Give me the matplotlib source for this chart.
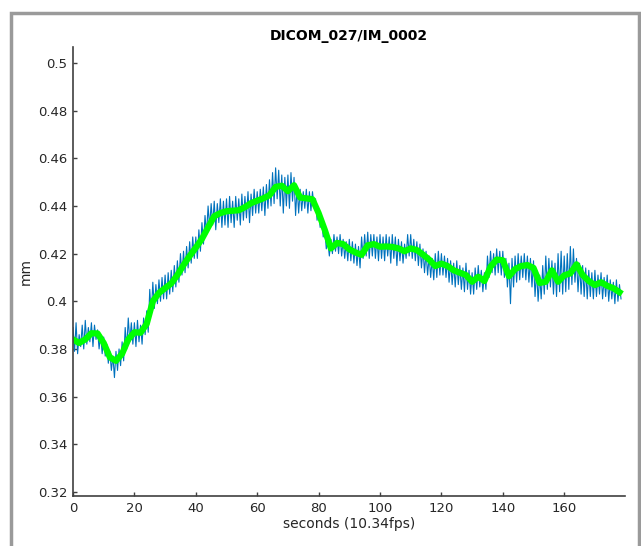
import matplotlib.pyplot as plt
from matplotlib.patches import Rectangle
import numpy as np

# frame rate of the clip
fps_label = 'seconds (10.34fps)'
title = 'DICOM_027/IM_0002'

# smoothed diameter, one value every 2 s (0..178 s)
smooth_t = list(range(0, 180, 2))
smooth_mm = [
    0.3840, 0.3825, 0.3840, 0.3866, 0.3865, 0.3825, 0.3765, 0.3750, 0.3780, 0.3840,
    0.3870, 0.3868, 0.3905, 0.4000, 0.4035, 0.4055, 0.4075, 0.4110, 0.4152, 0.4190,
    0.4225, 0.4262, 0.4310, 0.4357, 0.4370, 0.4378, 0.4380, 0.4382, 0.4395, 0.4412,
    0.4422, 0.4432, 0.4445, 0.4480, 0.4485, 0.4462, 0.4487, 0.4435, 0.4432, 0.4428,
    0.4370, 0.4300, 0.4222, 0.4245, 0.4240, 0.4218, 0.4205, 0.4195, 0.4235, 0.4240,
    0.4229, 0.4230, 0.4228, 0.4222, 0.4210, 0.4222, 0.4215, 0.4196, 0.4175, 0.4148,
    0.4158, 0.4148, 0.4130, 0.4120, 0.4110, 0.4082, 0.4103, 0.4085, 0.4145, 0.4175,
    0.4172, 0.4105, 0.4135, 0.4148, 0.4152, 0.4140, 0.4077, 0.4082, 0.4130, 0.4082,
    0.4109, 0.4117, 0.4155, 0.4110, 0.4085, 0.4068, 0.4080, 0.4065, 0.4055, 0.4038,
]

# raw diameter, one value every 0.5 s (0..178.5 s)
raw_mm = [
    0.389, 0.379, 0.391, 0.378, 0.386, 0.381, 0.390, 0.380, 0.392, 0.382, 0.389, 0.383, 0.391, 0.381, 0.390, 0.384, 0.388, 0.380, 0.386, 0.378,
    0.385, 0.377, 0.382, 0.374, 0.379, 0.371, 0.377, 0.368, 0.379, 0.371, 0.380, 0.373, 0.383, 0.375, 0.389, 0.380, 0.393, 0.383, 0.391, 0.382,
    0.391, 0.381, 0.392, 0.383, 0.390, 0.382, 0.393, 0.386, 0.396, 0.387, 0.405, 0.394, 0.408, 0.397, 0.407, 0.399, 0.409, 0.400, 0.410, 0.401,
    0.411, 0.401, 0.412, 0.403, 0.413, 0.404, 0.415, 0.406, 0.417, 0.408, 0.420, 0.411, 0.421, 0.412, 0.423, 0.414, 0.425, 0.416, 0.427, 0.418,
    0.427, 0.418, 0.430, 0.421, 0.433, 0.424, 0.436, 0.428, 0.440, 0.431, 0.441, 0.432, 0.442, 0.430, 0.441, 0.433, 0.443, 0.431, 0.442, 0.432,
    0.443, 0.431, 0.444, 0.433, 0.442, 0.431, 0.444, 0.434, 0.443, 0.432, 0.445, 0.434, 0.444, 0.435, 0.446, 0.433, 0.445, 0.436, 0.447, 0.437,
    0.446, 0.437, 0.447, 0.438, 0.448, 0.436, 0.449, 0.439, 0.451, 0.440, 0.454, 0.441, 0.456, 0.443, 0.455, 0.440, 0.453, 0.437, 0.452, 0.440,
    0.453, 0.439, 0.454, 0.442, 0.452, 0.436, 0.448, 0.437, 0.447, 0.438, 0.446, 0.439, 0.447, 0.437, 0.446, 0.438, 0.446, 0.440, 0.443, 0.434,
    0.439, 0.431, 0.434, 0.427, 0.430, 0.422, 0.425, 0.419, 0.426, 0.420, 0.428, 0.421, 0.427, 0.420, 0.428, 0.419, 0.426, 0.418, 0.425, 0.417,
    0.426, 0.417, 0.425, 0.416, 0.424, 0.415, 0.423, 0.414, 0.427, 0.418, 0.428, 0.419, 0.429, 0.418, 0.428, 0.419, 0.428, 0.418, 0.427, 0.417,
    0.428, 0.418, 0.427, 0.417, 0.428, 0.419, 0.427, 0.416, 0.428, 0.418, 0.427, 0.415, 0.426, 0.417, 0.425, 0.416, 0.424, 0.418, 0.428, 0.419,
    0.428, 0.418, 0.426, 0.417, 0.425, 0.415, 0.424, 0.414, 0.422, 0.412, 0.421, 0.411, 0.419, 0.410, 0.418, 0.409, 0.420, 0.410, 0.421, 0.411,
    0.420, 0.411, 0.419, 0.410, 0.418, 0.408, 0.417, 0.407, 0.416, 0.406, 0.417, 0.407, 0.415, 0.405, 0.414, 0.404, 0.416, 0.405, 0.413, 0.403,
    0.412, 0.403, 0.414, 0.405, 0.415, 0.406, 0.413, 0.404, 0.412, 0.405, 0.419, 0.410, 0.421, 0.412, 0.420, 0.411, 0.422, 0.412, 0.421, 0.411,
    0.421, 0.410, 0.418, 0.406, 0.416, 0.399, 0.418, 0.406, 0.419, 0.408, 0.420, 0.409, 0.419, 0.410, 0.420, 0.409, 0.419, 0.408, 0.418, 0.406,
    0.417, 0.402, 0.413, 0.400, 0.411, 0.401, 0.415, 0.403, 0.419, 0.405, 0.418, 0.406, 0.417, 0.403, 0.416, 0.402, 0.420, 0.404, 0.421, 0.403,
    0.419, 0.404, 0.420, 0.405, 0.423, 0.407, 0.422, 0.408, 0.418, 0.404, 0.416, 0.403, 0.415, 0.402, 0.414, 0.401, 0.413, 0.402, 0.412, 0.401,
    0.413, 0.402, 0.411, 0.403, 0.412, 0.401, 0.410, 0.402, 0.411, 0.400, 0.409, 0.401, 0.408, 0.399, 0.409, 0.400, 0.407, 0.401,
]
raw_t = np.arange(len(raw_mm)) * 0.5

fig = plt.figure(figsize=(6.41, 5.46), dpi=100)
fig.patch.set_facecolor('white')

# grey window frame from the screenshot
fig.patches.append(Rectangle((10.5 / 641, -0.05), (638.5 - 10.5) / 641, 1.05 - 13.5 / 546,
                             transform=fig.transFigure, fill=False,
                             edgecolor='#9a9a9a', linewidth=2.5))

ax = fig.add_axes([73 / 641, 50 / 546, 552 / 641, 449 / 546])
ax.plot(raw_t, raw_mm, color='#0072BD', linewidth=0.8)
ax.plot(smooth_t, smooth_mm, color='#00FF00', linewidth=4.5, solid_joinstyle='round')

ax.set_xlim(0, 179.8)
ax.set_ylim(0.3183, 0.5067)
ax.set_xticks(range(0, 180, 20))
ax.set_yticks([0.32, 0.34, 0.36, 0.38, 0.4, 0.42, 0.44, 0.46, 0.48, 0.5])
ax.set_yticklabels(['0.32', '0.34', '0.36', '0.38', '0.4', '0.42', '0.44', '0.46', '0.48', '0.5'])

for side in ['top', 'right']:
    ax.spines[side].set_visible(False)
for side in ['left', 'bottom']:
    ax.spines[side].set_color('#404040')
    ax.spines[side].set_linewidth(1.2)
ax.tick_params(direction='in', length=3, width=1, color='#404040',
               labelsize=9.5, labelcolor='#262626', pad=4)

ax.set_title(title, fontsize=10, fontweight='bold', pad=5)
ax.set_xlabel(fps_label, fontsize=10, color='#262626', labelpad=2)
ax.set_ylabel('mm', fontsize=10, color='#262626', labelpad=4)

fig.savefig('out.png', dpi=100)
